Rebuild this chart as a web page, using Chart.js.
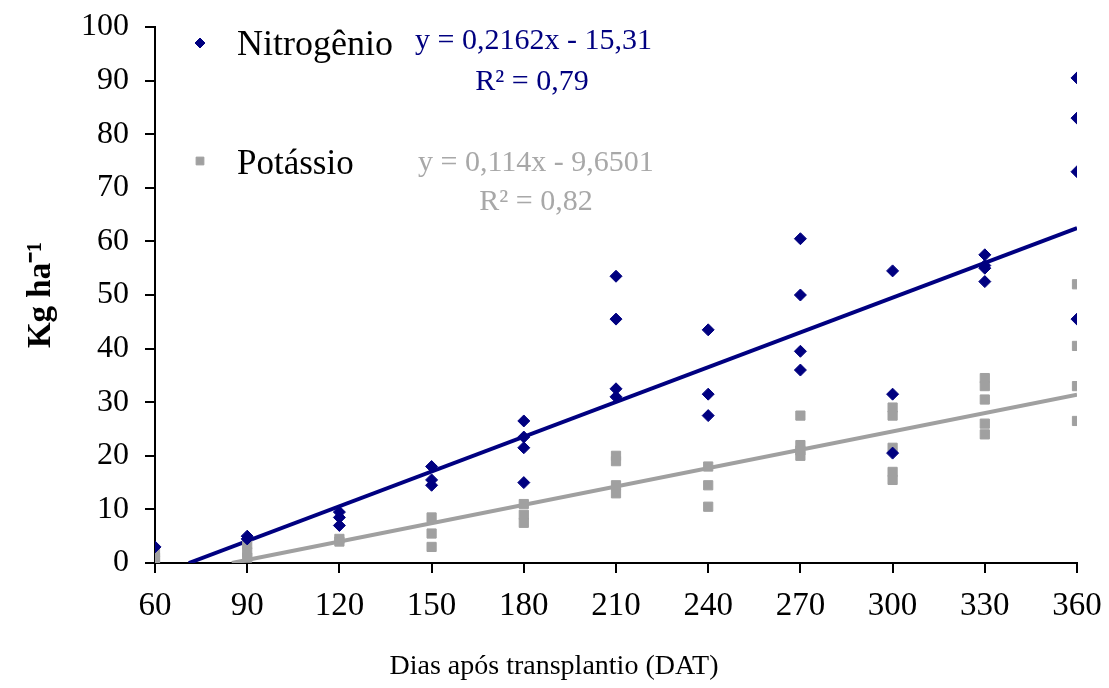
<!DOCTYPE html>
<html>
<head>
<meta charset="utf-8">
<script src="https://cdn.jsdelivr.net/npm/chart.js@4.4.0/dist/chart.umd.min.js"></script>
<style>
    body { margin: 0; background: #fff; }
    #box { width: 1109px; height: 688px; }
</style>
</head>
<body>
<div id="box"><canvas id="grafico" width="1109" height="688"></canvas></div>
<script>
const dias = [60, 90, 120, 150, 180, 210, 240, 270, 300, 330, 360];

const nitrogenio = [
    [3], [5, 4.5], [9.5, 8.5, 7], [18, 15.5, 14.5], [26.5, 23.5, 21.5, 15],
    [53.5, 45.5, 32.5, 31], [43.5, 31.5, 27.5], [60.5, 50, 39.5, 36],
    [54.5, 31.5, 20.5], [57.5, 55.5, 55, 52.5], [90.5, 83, 73, 45.5]
];
const potassio = [
    [2, 1, 0.5], [3.5, 2, 1], [4.5, 4], [8.5, 5.5, 3], [11, 9, 7.5],
    [20, 19, 14.5, 13], [18, 14.5, 10.5], [27.5, 22, 21, 20],
    [29, 27.5, 21.5, 17, 15.5], [34.5, 33, 30.5, 26, 24], [52, 40.5, 33, 26.5]
];

// tendencias (inicio e fim)
const linhaN = [[71, 0], [360, 62.5]];
const linhaK = [[85, 0], [360, 31.4]];

const eqN = ['y = 0,2162x - 15,31', 'R² = 0,79'];
const eqK = ['y = 0,114x - 9,6501', 'R² = 0,82'];
const tituloX = 'Dias após transplantio (DAT)';

const azul = '#000080';
const cinza = '#a0a0a0';
const fonte = 'Liberation Serif';

function Pontos(valores){
    let pts = [];
    for(let i=0; i < dias.length; i++)
        for(let j=0; j < valores[i].length; j++)
            pts.push({x: dias[i], y: valores[i][j]});
    return pts;
}

function Linha(par){
    return par.map(p => ({x: p[0], y: p[1]}));
}

const legenda = {
    id: 'legenda',
    afterDraw(chart){
        const ctx = chart.ctx;
        ctx.save();

        ctx.fillStyle = azul;
        ctx.strokeStyle = azul;
        Chart.helpers.drawPoint(ctx, {pointStyle: 'rectRot', radius: 5, rotation: 0, borderWidth: 1}, 200, 43);
        ctx.fillStyle = cinza;
        ctx.strokeStyle = cinza;
        Chart.helpers.drawPoint(ctx, {pointStyle: 'rect', radius: 5.5, rotation: 0, borderWidth: 1}, 200, 161);

        ctx.textBaseline = 'alphabetic';
        ctx.textAlign = 'left';
        ctx.fillStyle = '#000';
        ctx.font = '36px "' + fonte + '"';
        ctx.fillText('Nitrogênio', 237, 55);
        ctx.font = '35px "' + fonte + '"';
        ctx.fillText('Potássio', 237, 174);

        ctx.font = '30px "' + fonte + '"';
        ctx.fillStyle = azul;
        ctx.fillText(eqN[0], 415, 49);
        ctx.fillStyle = '#a8a8a8';
        ctx.fillText(eqK[0], 418, 171);

        ctx.textAlign = 'center';
        ctx.fillStyle = azul;
        ctx.fillText(eqN[1], 532, 90);
        ctx.fillStyle = '#a8a8a8';
        ctx.fillText(eqK[1], 536, 210);

        // titulo do eixo x, centrado na figura
        ctx.fillStyle = '#000';
        ctx.font = '28px "' + fonte + '"';
        ctx.fillText(tituloX, 554, 674);

        ctx.restore();
    }
};

function CreateGraph(canva){
    let ctx = document.getElementById(canva);

    new Chart(ctx, {
        type: 'scatter',
        data: {
            datasets: [
                {
                    label: 'Nitrogênio',
                    data: Pontos(nitrogenio),
                    pointStyle: 'rectRot',
                    pointRadius: 6,
                    backgroundColor: azul,
                    borderColor: azul,
                    borderWidth: 1
                },
                {
                    label: 'Potássio',
                    data: Pontos(potassio),
                    pointStyle: 'rect',
                    pointRadius: 6.5,
                    backgroundColor: cinza,
                    borderColor: cinza,
                    borderWidth: 1
                },
                {
                    type: 'line',
                    data: Linha(linhaN),
                    borderColor: azul,
                    borderWidth: 4,
                    pointRadius: 0
                },
                {
                    type: 'line',
                    data: Linha(linhaK),
                    borderColor: cinza,
                    borderWidth: 4,
                    pointRadius: 0
                }
            ]
        },
        options: {
            responsive: false,
            animation: false,
            layout: {padding: {top: 27, right: 32, left: 0, bottom: 0}},
            plugins: {legend: {display: false}, tooltip: {enabled: false}},
            scales: {
                x: {
                    type: 'linear',
                    min: 60,
                    max: 360,
                    ticks: {stepSize: 30, color: '#000', padding: 14, font: {family: fonte, size: 33}},
                    grid: {drawOnChartArea: false, color: '#000', lineWidth: 2, tickLength: 10},
                    border: {color: '#000', width: 2},
                    afterFit(s){
                        s.height = 125;
                        s.paddingLeft = 0;
                        s.paddingRight = 0;
                    }
                },
                y: {
                    min: 0,
                    max: 100,
                    ticks: {stepSize: 10, color: '#000', padding: 16, font: {family: fonte, size: 32}},
                    grid: {drawOnChartArea: false, color: '#000', lineWidth: 2, tickLength: 10},
                    border: {color: '#000', width: 2},
                    title: {
                        display: true,
                        text: 'Kg ha⁻¹',
                        color: '#000',
                        font: {family: fonte, size: 33, weight: 'bold'},
                        padding: {top: 22, bottom: 0}
                    },
                    afterFit(s){
                        s.width = 155;
                        s.paddingTop = 0;
                        s.paddingBottom = 0;
                    }
                }
            }
        },
        plugins: [legenda]
    });
}

CreateGraph('grafico');
</script>
</body>
</html>
